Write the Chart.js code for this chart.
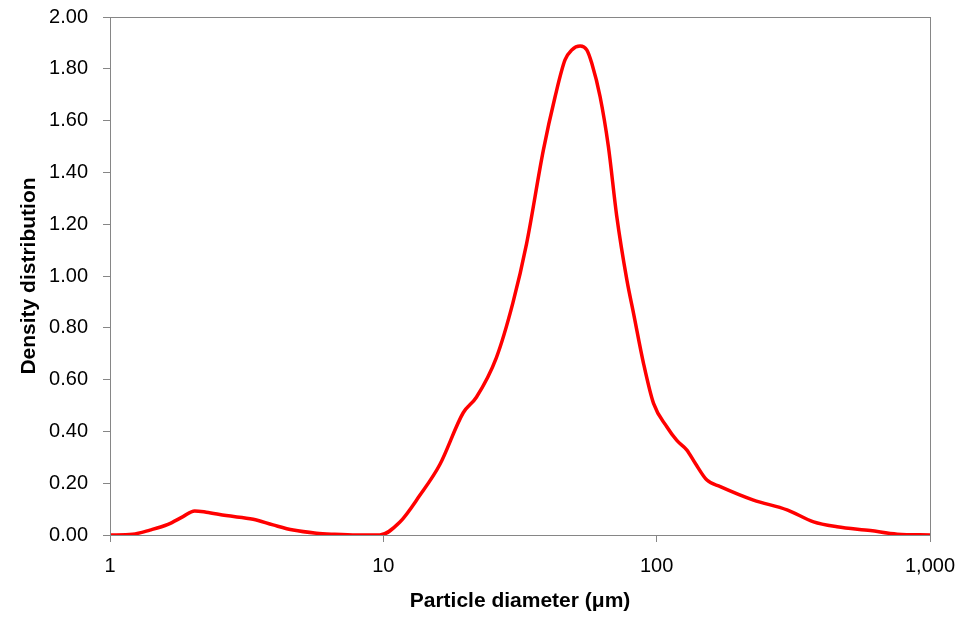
<!DOCTYPE html>
<html>
<head>
<meta charset="utf-8">
<script src="https://cdn.jsdelivr.net/npm/chart.js@4"></script>
<style>
  html, body { margin: 0; padding: 0; background: #fff; }
  #wrap { width: 969px; height: 627px; }
</style>
</head>
<body>
<div id="wrap"><canvas id="psdChart" width="969" height="627"></canvas></div>
<script>
// PARTICLE SIZE DISTRIBUTION

const diameters = [1, 1.21, 1.4, 1.63, 1.85, 2.04, 2.25, 2.66, 3.34, 3.95, 4.68, 5.69, 6.55, 8.0, 9.7,
  11.5, 13.6, 16.1, 19.6, 21.9, 25.9, 29.8, 33.4, 38.5, 42.5, 46.2, 48.9, 52.5, 55.5, 57.9, 62.1, 66.6,
  71.4, 77.8, 82.3, 89.5, 97.4, 108.9, 118.5, 129, 138.4, 152.7, 170.9, 226, 300, 375, 457, 605, 759, 1000];
const density = [0, 0.003, 0.019, 0.041, 0.071, 0.093, 0.088, 0.075, 0.061, 0.039, 0.019, 0.007, 0.003, 0, 0,
  0.05, 0.153, 0.272, 0.472, 0.532, 0.684, 0.897, 1.123, 1.486, 1.692, 1.834, 1.873, 1.888, 1.873, 1.821, 1.692, 1.499,
  1.233, 0.985, 0.856, 0.663, 0.508, 0.418, 0.365, 0.328, 0.277, 0.212, 0.187, 0.135, 0.097, 0.051, 0.032, 0.017, 0.003, 0];
const xTicks = [1, 10, 100, 1000];
const yMax = 2.0;
const yStep = 0.2;

const axisGrey = '#868686';
const font = { family: "'Liberation Sans', Arial, sans-serif", size: 20 };
const boldFont = { family: "'Liberation Sans', Arial, sans-serif", size: 21, weight: 'bold' };

const frame = {
  id: 'frame',
  afterDraw: (chart) => {
    const a = chart.chartArea;
    const ctx = chart.ctx;
    ctx.save();
    ctx.strokeStyle = axisGrey;
    ctx.lineWidth = 1;
    ctx.strokeRect(a.left + 0.5, a.top + 0.5, a.right - a.left, a.bottom - a.top);
    ctx.restore();
  }
};

const renderPsdChart = () => {
  return new Chart(document.getElementById('psdChart'), {
    type: 'line',
    data: {
      datasets: [{
        label: 'Density distribution',
        data: diameters.map((d, i) => ({ x: d, y: density[i] })),
        borderColor: '#FF0000',
        borderWidth: 3.5,
        pointRadius: 0,
        fill: false,
        cubicInterpolationMode: 'monotone'
      }]
    },
    options: {
      responsive: false,
      animation: false,
      layout: { padding: { top: 17, right: 39, left: 0, bottom: 0 } },
      plugins: {
        legend: { display: false },
        tooltip: { enabled: false }
      },
      scales: {
        x: {
          type: 'logarithmic',
          min: 1,
          max: 1000,
          afterBuildTicks: (scale) => {
            scale.ticks = xTicks.map(v => ({ value: v, major: true }));
          },
          afterFit: (scale) => { scale.height = 92; },
          border: { display: true, color: axisGrey },
          grid: { drawOnChartArea: false, drawTicks: true, tickLength: 7, color: axisGrey },
          ticks: {
            color: '#000',
            font: font,
            padding: 12,
            maxRotation: 0,
            autoSkip: false,
            callback: (v) => Number(v).toLocaleString('en-US')
          },
          title: {
            display: true,
            text: 'Particle diameter (\u03bcm)',
            color: '#000',
            font: boldFont,
            padding: { top: 0, bottom: 13 }
          }
        },
        y: {
          min: 0,
          max: yMax,
          afterFit: (scale) => {
            scale.width = 110;
            scale.paddingTop = 0;
            scale.paddingBottom = 0;
          },
          border: { display: true, color: axisGrey },
          grid: { drawOnChartArea: false, drawTicks: true, tickLength: 7, color: axisGrey },
          ticks: {
            stepSize: yStep,
            color: '#000',
            font: font,
            padding: 15,
            callback: (v) => Number(v).toFixed(2)
          },
          title: {
            display: true,
            text: 'Density distribution',
            color: '#000',
            font: boldFont,
            padding: { top: 17, bottom: 0 }
          }
        }
      }
    },
    plugins: [frame]
  });
};

renderPsdChart();
</script>
</body>
</html>
